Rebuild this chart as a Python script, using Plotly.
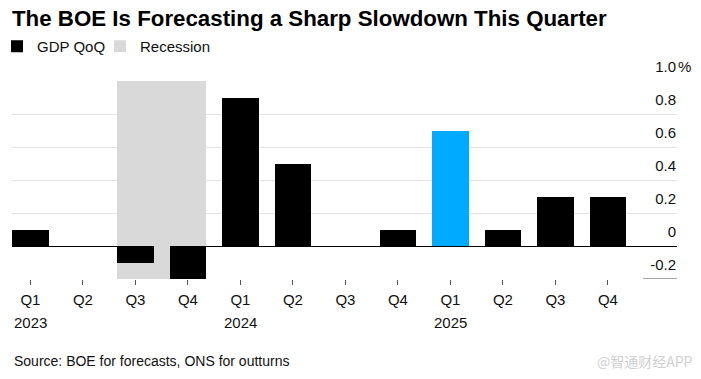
import plotly.graph_objects as go

# ---- data ----
quarters = ["Q1", "Q2", "Q3", "Q4", "Q1", "Q2", "Q3", "Q4", "Q1", "Q2", "Q3", "Q4"]
years = ["2023", "2023", "2023", "2023", "2024", "2024", "2024", "2024", "2025", "2025", "2025", "2025"]
gdp_qoq = [0.1, 0.0, -0.1, -0.2, 0.9, 0.5, 0.0, 0.1, 0.7, 0.1, 0.3, 0.3]
highlight_quarter = "Q1 2025"
recession_start = "Q3 2023"
recession_end = "Q4 2023"
y_ticks = [0, 0.2, 0.4, 0.6, 0.8, 1.0]
y_tick_labels = ["0", "0.2", "0.4", "0.6", "0.8", "1.0"]
y_min, y_max = -0.2, 1.0

labels = [f"{q} {y}" for q, y in zip(quarters, years)]
pos = list(range(len(labels)))
BAR_W = 0.7
BLACK = "#000000"
BLUE = "#00aaff"
GREY = "#d9d9d9"
FONT = "Liberation Sans, Arial, sans-serif"

colors = [BLUE if l == highlight_quarter else BLACK for l in labels]
r0 = labels.index(recession_start)
r1 = labels.index(recession_end)

fig = go.Figure()
# recession shading (behind the GDP bars)
fig.add_trace(go.Bar(
    x=[(r0 + r1) / 2], y=[y_max - y_min], base=[y_min], width=[(r1 - r0) + BAR_W],
    marker=dict(color=GREY, line=dict(width=0)), name="Recession",
    legend="legend2", hoverinfo="skip"))
fig.add_trace(go.Bar(
    x=pos, y=gdp_qoq, width=BAR_W, marker=dict(color=colors, line=dict(width=0)),
    name="GDP QoQ", legend="legend", hovertext=labels))
fig.add_trace(go.Scatter(x=[pos[0]], y=[y_min], yaxis="y2", mode="markers",
                         marker=dict(opacity=0), showlegend=False, hoverinfo="skip"))

year_first = [i for i, y in enumerate(years) if i == 0 or years[i - 1] != y]
annotations = [
    dict(x=i, y=0, xref="x", yref="paper", yshift=-43, text=years[i], showarrow=False,
         xanchor="center", yanchor="middle", font=dict(size=15, color="#111", family=FONT))
    for i in year_first
]
annotations.append(dict(x=1, y=y_ticks[-1], xref="paper", yref="y", yshift=15, xshift=-1,
                        text="%", showarrow=False, xanchor="left", yanchor="middle",
                        font=dict(size=15, color="#111", family=FONT)))
annotations.append(dict(x=0, y=-0.414, xref="paper", yref="paper",
                        text="Source: BOE for forecasts, ONS for outturns", showarrow=False,
                        xanchor="left", yanchor="middle",
                        font=dict(size=14, color="#111", family=FONT)))
annotations.append(dict(x=1.027, y=-0.414, xref="paper", yref="paper",
                        text="@智通财经APP", showarrow=False,
                        xanchor="right", yanchor="middle",
                        font=dict(size=14, color="#d0d0d0", family="Noto Sans CJK SC")))

legend_common = dict(orientation="h", xanchor="left", y=1 - 30 / 379, yanchor="top",
                     yref="container", font=dict(size=15, color="#111", family=FONT),
                     itemclick=False, itemdoubleclick=False, bgcolor="rgba(0,0,0,0)")

fig.update_layout(
    width=701, height=379,
    margin=dict(l=12, r=24, t=81, b=100, autoexpand=False),
    paper_bgcolor="white", plot_bgcolor="white",
    barmode="overlay", bargap=0,
    font=dict(family=FONT, size=15, color="#111"),
    title=dict(text="<b>The BOE Is Forecasting a Sharp Slowdown This Quarter</b>",
               x=12 / 701, xanchor="left", xref="container",
               y=1 - 18 / 379, yanchor="middle", yref="container",
               font=dict(size=22.3, color="#000", family=FONT)),
    legend=dict(x=-15 / 665, **legend_common),
    legend2=dict(x=88 / 665, **legend_common),
    xaxis=dict(range=[-BAR_W / 2, -BAR_W / 2 + 665 / 52.5], tickmode="array",
               tickvals=pos, ticktext=quarters, ticks="outside", ticklen=5, tickwidth=1,
               tickcolor="#555", showgrid=False, zeroline=False, showline=False,
               automargin=False, ticklabelstandoff=2,
               tickfont=dict(size=15, color="#111")),
    yaxis=dict(range=[y_min, y_max], side="right", tickmode="array", tickvals=y_ticks,
               ticktext=y_tick_labels, ticklabelposition="inside", ticklabelshift=-14,
               ticklabelstandoff=-2, ticklabeloverflow="allow", automargin=False,
               showgrid=True, gridcolor="#e3e3e3", gridwidth=1, zeroline=True,
               zerolinecolor="#000", zerolinewidth=1, showline=False, ticks="",
               tickfont=dict(size=15, color="#111")),
    yaxis2=dict(range=[y_min, y_max], overlaying="y", side="right", tickmode="array",
                tickvals=[y_min], ticktext=["-0.2"], ticklabelposition="inside",
                ticklabelshift=-14, ticklabelstandoff=-2, ticklabeloverflow="allow",
                automargin=False, showgrid=False, zeroline=False, showline=False, ticks="",
                tickfont=dict(size=15, color="#111")),
    shapes=[dict(type="line", xref="paper", yref="y", x0=(643 - 12) / 665, x1=1,
                 y0=y_min, y1=y_min, line=dict(color="#888", width=1.5))],
    annotations=annotations,
)

fig.write_html("out.html", config={"displayModeBar": False},
               post_script="document.body.style.margin='0';")
